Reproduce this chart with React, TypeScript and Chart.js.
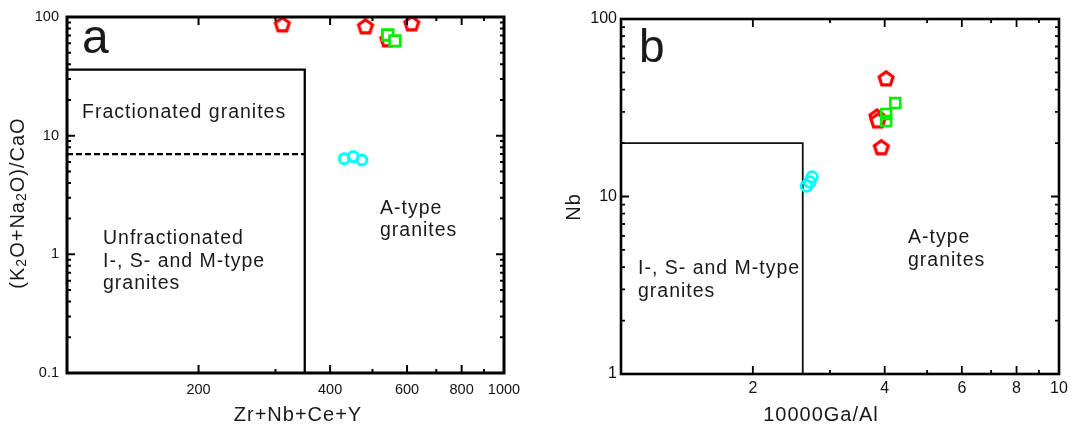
import { useEffect, useRef } from 'react';
import { Chart, registerables } from 'chart.js';
Chart.register(...registerables);

const FONT = '"Liberation Sans", Arial, sans-serif';

// ---------- Panel a data ----------
const aRedX = [311, 482, 615, 542];
const aRedY = [85.7, 82.4, 87.3, 64];
const aGreenX = [542, 563];
const aGreenY = [70.6, 62.9];
const aCyanX = [431, 452, 473];
const aCyanY = [6.4, 6.66, 6.24];
const aBoxX = [100, 350, 350];
const aBoxY = [36, 36, 0.1];
const aDashX = [100, 350];
const aDashY = [7, 7];
const aXTicks = [100, 200, 300, 400, 500, 600, 700, 800, 900, 1000];
const aXLabels = [200, 400, 600, 800, 1000];
const aYTicks = [0.1, 0.2, 0.3, 0.4, 0.5, 0.6, 0.7, 0.8, 0.9, 1, 2, 3, 4, 5, 6, 7, 8, 9, 10, 20, 30, 40, 50, 60, 70, 80, 90, 100];
const aYLabels = [0.1, 1, 10, 100];
const aXTitle = 'Zr+Nb+Ce+Y';
const aYTitleParts: [string, boolean][] = [['(K', false], ['2', true], ['O+Na', false], ['2', true], ['O)/CaO', false]];

// ---------- Panel b data ----------
const bRedX = [4.03, 3.84, 3.86, 3.93];
const bRedY = [45.9, 28.0, 26.6, 18.8];
const bGreenX = [4.23, 4.03, 4.03];
const bGreenY = [33.6, 29.2, 26.6];
const bCyanX = [2.73, 2.70, 2.65];
const bCyanY = [12.9, 12.07, 11.46];
const bBoxX = [1, 2.6, 2.6];
const bBoxY = [20, 20, 1];
const bXTicks = [1, 2, 3, 4, 5, 6, 7, 8, 9, 10];
const bXLabels = [2, 4, 6, 8, 10];
const bYTicks = [1, 2, 3, 4, 5, 6, 7, 8, 9, 10, 20, 30, 40, 50, 60, 70, 80, 90, 100];
const bYLabels = [1, 10, 100];
const bXTitle = '10000Ga/Al';
const bYTitle = 'Nb';

const zip = (xs: number[], ys: number[]) => xs.map((x, i) => ({ x, y: ys[i] }));
const has = (arr: number[], v: number) => arr.some((a) => Math.abs(a - v) < 1e-9 * Math.max(1, a));

function pentagon(r: number, lw: number, color: string) {
  const size = Math.ceil(2 * r + lw + 4);
  const c = document.createElement('canvas');
  c.width = size;
  c.height = size;
  const ctx = c.getContext('2d')!;
  ctx.translate(size / 2, size / 2);
  ctx.beginPath();
  for (let i = 0; i < 5; i++) {
    const ang = -Math.PI / 2 + (i * 2 * Math.PI) / 5;
    const px = r * Math.cos(ang);
    const py = r * Math.sin(ang);
    if (i === 0) ctx.moveTo(px, py);
    else ctx.lineTo(px, py);
  }
  ctx.closePath();
  ctx.fillStyle = '#fff';
  ctx.fill();
  ctx.lineWidth = lw;
  ctx.strokeStyle = color;
  ctx.lineJoin = 'miter';
  ctx.stroke();
  return c;
}

function axis(min: number, max: number, tickVals: number[], labelVals: number[], fontSize: number, padding: number, fitProp: 'width' | 'height', fitVal: number) {
  return {
    type: 'logarithmic' as const,
    min,
    max,
    grid: { display: false, drawTicks: false },
    border: { display: false },
    afterBuildTicks: (s: any) => {
      s.ticks = tickVals.map((v) => ({ value: v }));
    },
    afterFit: (s: any) => {
      s[fitProp] = fitVal;
    },
    ticks: {
      autoSkip: false,
      maxRotation: 0,
      minRotation: 0,
      padding,
      color: '#111',
      font: { family: FONT, size: fontSize },
      callback: (v: any) => (has(labelVals, Number(v)) ? String(v) : ''),
    },
  };
}

type TextItem = { t: string; x: number; y: number; size: number; base?: CanvasTextBaseline; align?: CanvasTextAlign; ls?: string };

function decorPlugin(cfg: {
  xTicks: number[]; xLabels: number[]; yTicks: number[]; yLabels: number[];
  frame: number; tickW: number; major: number; minor: number;
  texts: TextItem[];
  extra?: (ctx: CanvasRenderingContext2D) => void;
}) {
  return {
    id: 'decor',
    afterDraw(chart: any) {
      const { ctx, chartArea: ca, scales } = chart;
      ctx.save();
      ctx.strokeStyle = '#000';
      ctx.lineWidth = cfg.tickW;
      ctx.beginPath();
      for (const v of cfg.xTicks) {
        const px = scales.x.getPixelForValue(v);
        const L = has(cfg.xLabels, v) ? cfg.major : cfg.minor;
        ctx.moveTo(px, ca.bottom); ctx.lineTo(px, ca.bottom - L);
        ctx.moveTo(px, ca.top); ctx.lineTo(px, ca.top + L);
      }
      for (const v of cfg.yTicks) {
        const py = scales.y.getPixelForValue(v);
        const L = has(cfg.yLabels, v) ? cfg.major : cfg.minor;
        ctx.moveTo(ca.left, py); ctx.lineTo(ca.left + L, py);
        ctx.moveTo(ca.right, py); ctx.lineTo(ca.right - L, py);
      }
      ctx.stroke();
      ctx.lineWidth = cfg.frame;
      ctx.strokeRect(ca.left, ca.top, ca.right - ca.left, ca.bottom - ca.top);
      ctx.fillStyle = '#1a1a1a';
      for (const it of cfg.texts) {
        ctx.font = `${it.size}px ${FONT}`;
        (ctx as any).letterSpacing = it.ls ?? '1px';
        ctx.textBaseline = it.base ?? 'middle';
        ctx.textAlign = it.align ?? 'left';
        ctx.fillText(it.t, it.x, it.y);
      }
      (ctx as any).letterSpacing = '0px';
      if (cfg.extra) cfg.extra(ctx);
      ctx.restore();
    },
  };
}

function drawRotated(ctx: CanvasRenderingContext2D, parts: [string, boolean][], cx: number, cy: number, size: number) {
  ctx.save();
  ctx.translate(cx, cy);
  ctx.rotate(-Math.PI / 2);
  ctx.fillStyle = '#1a1a1a';
  ctx.textBaseline = 'middle';
  ctx.textAlign = 'left';
  (ctx as any).letterSpacing = '1px';
  const fontFor = (sub: boolean) => `${sub ? Math.round(size * 0.68) : size}px ${FONT}`;
  let total = 0;
  const widths = parts.map(([t, sub]) => {
    ctx.font = fontFor(sub);
    const w = ctx.measureText(t).width;
    total += w;
    return w;
  });
  let x = -total / 2;
  parts.forEach(([t, sub], i) => {
    ctx.font = fontFor(sub);
    ctx.fillText(t, x, sub ? size * 0.22 : 0);
    x += widths[i];
  });
  ctx.restore();
}

function buildA(canvas: HTMLCanvasElement) {
  const pent = pentagon(7.3, 3.2, '#ff0000');
  return new Chart(canvas, {
    type: 'scatter',
    data: {
      datasets: [
        { data: zip(aBoxX, aBoxY), showLine: true, borderColor: '#000', borderWidth: 2.3, pointRadius: 0, fill: false, order: 5 } as any,
        { data: zip(aDashX, aDashY), showLine: true, borderColor: '#000', borderWidth: 2.2, borderDash: [6, 3], pointRadius: 0, fill: false, order: 5 } as any,
        { data: zip(aRedX, aRedY), pointStyle: pent, pointRadius: 8, order: 3 } as any,
        { data: zip(aCyanX, aCyanY), pointStyle: 'circle', pointRadius: 5, borderWidth: 3, borderColor: '#00ffff', backgroundColor: 'rgba(0,0,0,0)', order: 2 },
        { data: zip(aGreenX, aGreenY), pointStyle: 'rect', pointRadius: 7.5, borderWidth: 2.8, borderColor: '#00ee00', backgroundColor: '#ffffff', order: 1 },
      ],
    },
    options: {
      responsive: false,
      animation: false,
      devicePixelRatio: 1,
      events: [],
      layout: { padding: { left: 0, top: 17, right: 36, bottom: 0 } },
      plugins: { legend: { display: false }, tooltip: { enabled: false } },
      scales: {
        x: axis(100, 1000, aXTicks, aXLabels, 14.5, 8, 'height', 54) as any,
        y: axis(0.1, 100, aYTicks, aYLabels, 14.5, 8, 'width', 67) as any,
      },
    },
    plugins: [
      decorPlugin({
        xTicks: aXTicks, xLabels: aXLabels, yTicks: aYTicks, yLabels: aYLabels,
        frame: 3, tickW: 2, major: 8, minor: 4,
        texts: [
          { t: 'a', x: 82, y: 53, size: 48, base: 'alphabetic', ls: '0px' },
          { t: 'Fractionated granites', x: 82, y: 113, size: 19.5 },
          { t: 'Unfractionated', x: 103, y: 239, size: 19.5 },
          { t: 'I-, S- and M-type', x: 103, y: 262, size: 19.5 },
          { t: 'granites', x: 103, y: 284, size: 19.5 },
          { t: 'A-type', x: 380, y: 209, size: 19.5 },
          { t: 'granites', x: 380, y: 231, size: 19.5 },
          { t: aXTitle, x: 298, y: 415, size: 20, align: 'center' },
        ],
        extra: (ctx) => drawRotated(ctx, aYTitleParts, 18, 203, 20),
      }) as any,
    ],
  });
}

function buildB(canvas: HTMLCanvasElement) {
  const pent = pentagon(7.3, 3.2, '#ff0000');
  return new Chart(canvas, {
    type: 'scatter',
    data: {
      datasets: [
        { data: zip(bBoxX, bBoxY), showLine: true, borderColor: '#111', borderWidth: 1.8, pointRadius: 0, fill: false, order: 5 } as any,
        { data: zip(bRedX, bRedY), pointStyle: pent, pointRadius: 8, order: 3 } as any,
        { data: zip(bCyanX, bCyanY), pointStyle: 'circle', pointRadius: 5.3, borderWidth: 2.8, borderColor: '#00ffff', backgroundColor: 'rgba(0,0,0,0)', order: 2 },
        { data: zip(bGreenX, bGreenY), pointStyle: 'rect', pointRadius: 7, borderWidth: 2.6, borderColor: '#00ee00', backgroundColor: 'rgba(0,0,0,0)', order: 1 },
      ],
    },
    options: {
      responsive: false,
      animation: false,
      devicePixelRatio: 1,
      events: [],
      layout: { padding: { left: 0, top: 19, right: 15, bottom: 0 } },
      plugins: { legend: { display: false }, tooltip: { enabled: false } },
      scales: {
        x: axis(1, 10, bXTicks, bXLabels, 16, 5, 'height', 53) as any,
        y: axis(1, 100, bYTicks, bYLabels, 16, 4, 'width', 81) as any,
      },
    },
    plugins: [
      decorPlugin({
        xTicks: bXTicks, xLabels: bXLabels, yTicks: bYTicks, yLabels: bYLabels,
        frame: 2.6, tickW: 1.8, major: 8, minor: 4,
        texts: [
          { t: 'b', x: 99, y: 62, size: 46, base: 'alphabetic', ls: '0px' },
          { t: 'I-, S- and M-type', x: 98, y: 269, size: 19.5 },
          { t: 'granites', x: 98, y: 292, size: 19.5 },
          { t: 'A-type', x: 368, y: 238, size: 19.5 },
          { t: 'granites', x: 368, y: 261, size: 19.5 },
          { t: bXTitle, x: 281, y: 415, size: 20, align: 'center' },
        ],
        extra: (ctx) => drawRotated(ctx, [[bYTitle, false]], 34, 207, 20),
      }) as any,
    ],
  });
}

export default function App() {
  const refA = useRef<HTMLCanvasElement>(null);
  const refB = useRef<HTMLCanvasElement>(null);
  useEffect(() => {
    const ca = buildA(refA.current!);
    const cb = buildB(refB.current!);
    return () => {
      ca.destroy();
      cb.destroy();
    };
  }, []);
  return (
    <div style={{ position: 'absolute', left: 0, top: 0, width: 1074, height: 427, background: '#fff' }}>
      <canvas ref={refA} width={540} height={427} style={{ position: 'absolute', left: 0, top: 0, width: 540, height: 427 }} />
      <canvas ref={refB} width={534} height={427} style={{ position: 'absolute', left: 540, top: 0, width: 534, height: 427 }} />
    </div>
  );
}
